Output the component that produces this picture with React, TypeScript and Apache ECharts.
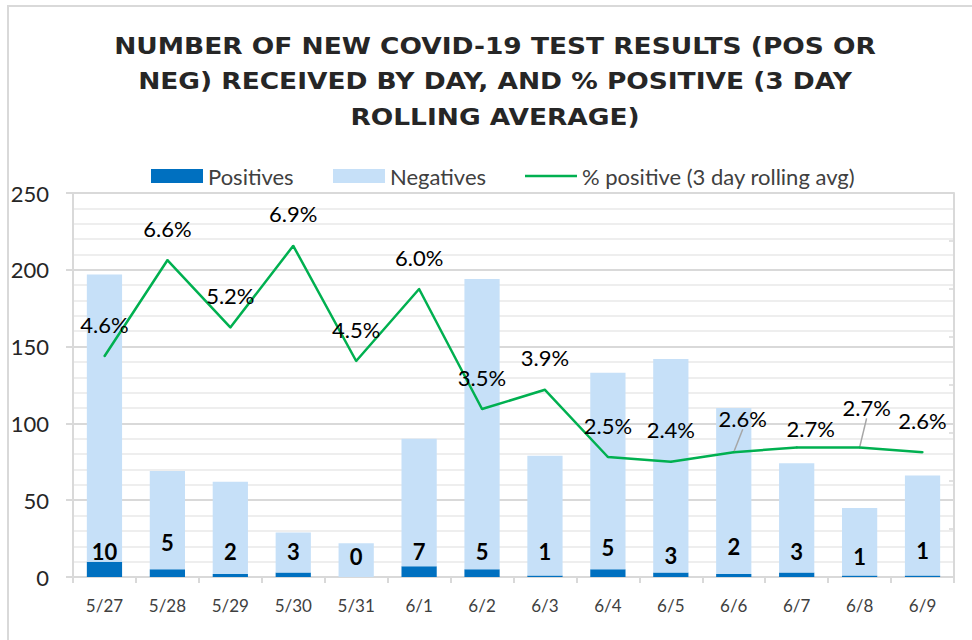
import React, { useEffect, useRef } from "react";
import * as echarts from "echarts";

const categories = ["5/27", "5/28", "5/29", "5/30", "5/31", "6/1", "6/2", "6/3", "6/4", "6/5", "6/6", "6/7", "6/8", "6/9"];
const positives = [10, 5, 2, 3, 0, 7, 5, 1, 5, 3, 2, 3, 1, 1];
const negatives = [187, 64, 60, 26, 22, 83, 189, 78, 128, 139, 108, 71, 44, 65];
const pctPositive = [4.6, 6.6, 5.2, 6.9, 4.5, 6.0, 3.5, 3.9, 2.5, 2.4, 2.6, 2.7, 2.7, 2.6];
const leftTicks = { min: 0, max: 250, interval: 50 };
const rightTicks = { min: 0, max: 8, interval: 1 };

const titleText = "NUMBER OF NEW COVID-19 TEST RESULTS (POS OR\nNEG) RECEIVED BY DAY, AND % POSITIVE (3 DAY\nROLLING AVERAGE)";

// label nudges (style only)
const posLabelNudge = [0, -9, 0, 0, 5, 0, 0, 0, -4, 4, -5, 0, 5, -1];
const leaderIdx = [10, 12];

const FONT = "Lato, 'Noto Sans', sans-serif";

export default function App() {
  const ref = useRef<HTMLDivElement>(null);
  useEffect(() => {
    if (!ref.current) return;
    const chart = echarts.init(ref.current, null, { renderer: "svg" });
    const lineName = "% positive (3 day rolling avg)";
    const legendText = { fontFamily: FONT, fontSize: 22, color: "#404040" };
    const option: any = {
      animation: false,
      backgroundColor: "#ffffff",
      textStyle: { fontFamily: FONT },
      graphic: [
        {
          type: "rect",
          z: -10,
          silent: true,
          shape: { x: 8, y: 6, width: 1000, height: 700 },
          style: { fill: "none", stroke: "#d9d9d9", lineWidth: 2 },
        },
        {
          type: "text",
          x: 495,
          y: 28,
          originX: 0,
          originY: 0,
          scaleX: 1.15,
          silent: true,
          style: {
            text: titleText,
            align: "center",
            verticalAlign: "top",
            fontFamily: "'DejaVu Sans', sans-serif",
            fontWeight: "bold",
            fontSize: 23,
            lineHeight: 35.5,
            fill: "#262626",
          },
        },
      ],
      legend: [
        {
          left: 146,
          top: 160,
          itemWidth: 52,
          itemHeight: 14,
          itemGap: 5,
          textStyle: legendText,
          data: [{ name: "Positives", icon: "rect" }],
        },
        {
          left: 328,
          top: 160,
          itemWidth: 52,
          itemHeight: 14,
          textStyle: legendText,
          data: [{ name: "Negatives", icon: "rect" }],
        },
        {
          left: 520,
          top: 160,
          itemWidth: 52,
          itemHeight: 14,
          textStyle: legendText,
          data: [{ name: lineName, icon: "path://M0,0 L52,0 L52,2.6 L0,2.6 Z" }],
        },
      ],
      grid: { left: 73, right: 18, top: 193, bottom: 63 },
      xAxis: {
        type: "category",
        data: categories,
        boundaryGap: true,
        axisLine: { show: true, lineStyle: { color: "#d9d9d9", width: 2 } },
        axisTick: { show: true, length: 6, lineStyle: { color: "#d9d9d9", width: 2 } },
        axisLabel: { fontFamily: FONT, fontSize: 17, color: "#404040", margin: 20 },
      },
      yAxis: [
        {
          type: "value",
          min: leftTicks.min,
          max: leftTicks.max,
          interval: leftTicks.interval,
          axisLine: { show: true, lineStyle: { color: "#d9d9d9", width: 2 } },
          axisTick: { show: true, length: 7, lineStyle: { color: "#d9d9d9", width: 2 } },
          axisLabel: { fontFamily: FONT, fontSize: 22, color: "#262626", margin: 24 },
          splitLine: { show: true, lineStyle: { color: "#d9d9d9", width: 2 } },
          minorTick: { show: false, splitNumber: 5 },
          minorSplitLine: { show: true, lineStyle: { color: "#eeeeee", width: 2 } },
        },
        {
          type: "value",
          position: "right",
          min: rightTicks.min,
          max: rightTicks.max,
          interval: rightTicks.interval,
          axisLine: { show: true, lineStyle: { color: "#d9d9d9", width: 2 } },
          axisTick: { show: true, inside: true, length: 5, lineStyle: { color: "#d9d9d9", width: 1.5 } },
          axisLabel: { show: false },
          splitLine: { show: false },
        },
      ],
      series: [
        {
          name: "Positives",
          type: "bar",
          stack: "tests",
          barWidth: "56%",
          itemStyle: { color: "#0070C0" },
          data: positives.map((v, i) => ({
            value: v,
            label: { offset: [0, posLabelNudge[i]] },
          })),
          label: {
            show: true,
            position: "insideBottom",
            distance: 15,
            fontFamily: FONT,
            fontWeight: "bold",
            fontSize: 22,
            color: "#000000",
          },
        },
        {
          name: "Negatives",
          type: "bar",
          stack: "tests",
          barWidth: "56%",
          itemStyle: { color: "#C6E0F8" },
          data: negatives,
        },
        {
          name: lineName,
          type: "line",
          yAxisIndex: 1,
          z: 5,
          symbol: "circle",
          symbolSize: 2,
          showSymbol: true,
          itemStyle: { color: "#00B050" },
          lineStyle: { color: "#00B050", width: 2.5 },
          data: pctPositive.map((v, i) =>
            leaderIdx.includes(i) ? { value: v, labelLine: { show: true } } : v
          ),
          label: {
            show: true,
            position: "top",
            distance: 20,
            fontFamily: FONT,
            fontSize: 22,
            color: "#000000",
            formatter: (p: any) => Number(p.value).toFixed(1) + "%",
          },
          labelLine: { show: false, lineStyle: { color: "#a6a6a6", width: 1.5 } },
          labelLayout: (p: any) => {
            const i = p.dataIndex;
            if (i === 10) return { dx: 9, dy: -2 };
            if (i === 11) return { dx: 14, dy: 13 };
            if (i === 12) return { dx: 7, dy: -8 };
            return {};
          },
        },
      ],
    };
    chart.setOption(option);
    return () => chart.dispose();
  }, []);
  return (
    <div
      ref={ref}
      style={{ position: "absolute", left: 0, top: 0, width: 972, height: 640 }}
    />
  );
}
